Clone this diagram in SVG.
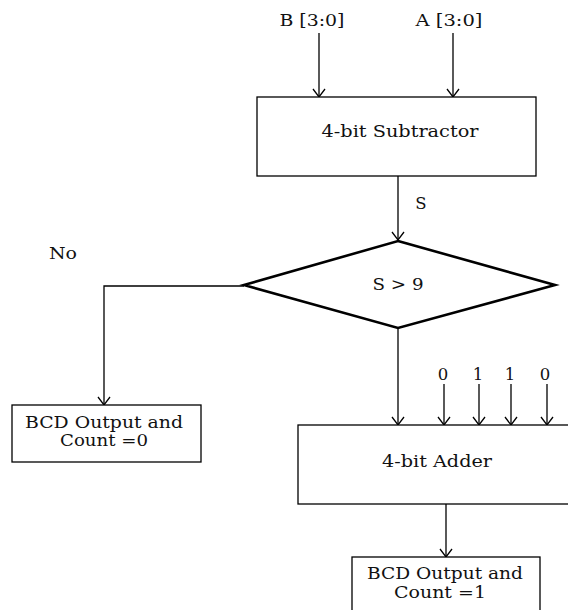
<svg xmlns="http://www.w3.org/2000/svg" width="568" height="610" viewBox="0 0 568 610">
<style>
.box{fill:#fff;stroke:#000;stroke-width:1.3}
.dia{fill:#fff;stroke:#000;stroke-width:2.6}
.ln{fill:none;stroke:#000;stroke-width:1.3}
text{font-family:"DejaVu Serif","Liberation Serif",serif;font-size:16.5px;fill:#111;text-anchor:middle}
</style>
<defs>
<marker id="ah" markerWidth="14" markerHeight="14" refX="11" refY="7" orient="auto" markerUnits="userSpaceOnUse" viewBox="0 0 14 14">
<path d="M3,1 L11,7 L3,13" fill="none" stroke="#000" stroke-width="1.3"/>
</marker>
</defs>
<rect width="568" height="610" fill="#fff"/>
<g id="connectors">
<line class="ln" x1="319" y1="33" x2="319" y2="97" marker-end="url(#ah)"/>
<line class="ln" x1="453" y1="33" x2="453" y2="97" marker-end="url(#ah)"/>
<line class="ln" x1="398" y1="176" x2="398" y2="240" marker-end="url(#ah)"/>
<polyline class="ln" points="244,286 104,286 104,405" marker-end="url(#ah)"/>
<line class="ln" x1="398" y1="328" x2="398" y2="425" marker-end="url(#ah)"/>
<line class="ln" x1="444" y1="384" x2="444" y2="425" marker-end="url(#ah)"/>
<line class="ln" x1="479" y1="384" x2="479" y2="425" marker-end="url(#ah)"/>
<line class="ln" x1="511" y1="384" x2="511" y2="425" marker-end="url(#ah)"/>
<line class="ln" x1="547" y1="384" x2="547" y2="425" marker-end="url(#ah)"/>
<line class="ln" x1="446" y1="504" x2="446" y2="557" marker-end="url(#ah)"/>
<text x="312" y="26" textLength="65" lengthAdjust="spacingAndGlyphs">B [3:0]</text>
<text x="449" y="26" textLength="67" lengthAdjust="spacingAndGlyphs">A [3:0]</text>
<text x="421" y="209">S</text>
<text x="63" y="259" textLength="28" lengthAdjust="spacingAndGlyphs">No</text>
<text x="443" y="380">0</text>
<text x="478" y="380">1</text>
<text x="510" y="380">1</text>
<text x="545" y="380">0</text>
</g>
<g id="subtractor">
<rect class="box" x="257" y="97" width="279" height="79"/>
<text x="400" y="137" textLength="157" lengthAdjust="spacingAndGlyphs">4-bit Subtractor</text>
</g>
<g id="decision">
<polygon class="dia" points="398,241 555,285 398,328 244,285"/>
<text x="398" y="290" textLength="51" lengthAdjust="spacingAndGlyphs">S &gt; 9</text>
</g>
<g id="bcd0">
<rect class="box" x="12" y="405" width="189" height="57"/>
<text x="104" y="428" textLength="158" lengthAdjust="spacingAndGlyphs">BCD Output and</text>
<text x="104" y="446" textLength="88" lengthAdjust="spacingAndGlyphs">Count =0</text>
</g>
<g id="adder">
<rect class="box" x="298" y="425" width="280" height="79"/>
<text x="437" y="467" textLength="110" lengthAdjust="spacingAndGlyphs">4-bit Adder</text>
</g>
<g id="bcd1">
<rect class="box" x="352" y="557" width="188" height="60"/>
<text x="445" y="579" textLength="156" lengthAdjust="spacingAndGlyphs">BCD Output and</text>
<text x="440" y="598" textLength="92" lengthAdjust="spacingAndGlyphs">Count =1</text>
</g>
</svg>
